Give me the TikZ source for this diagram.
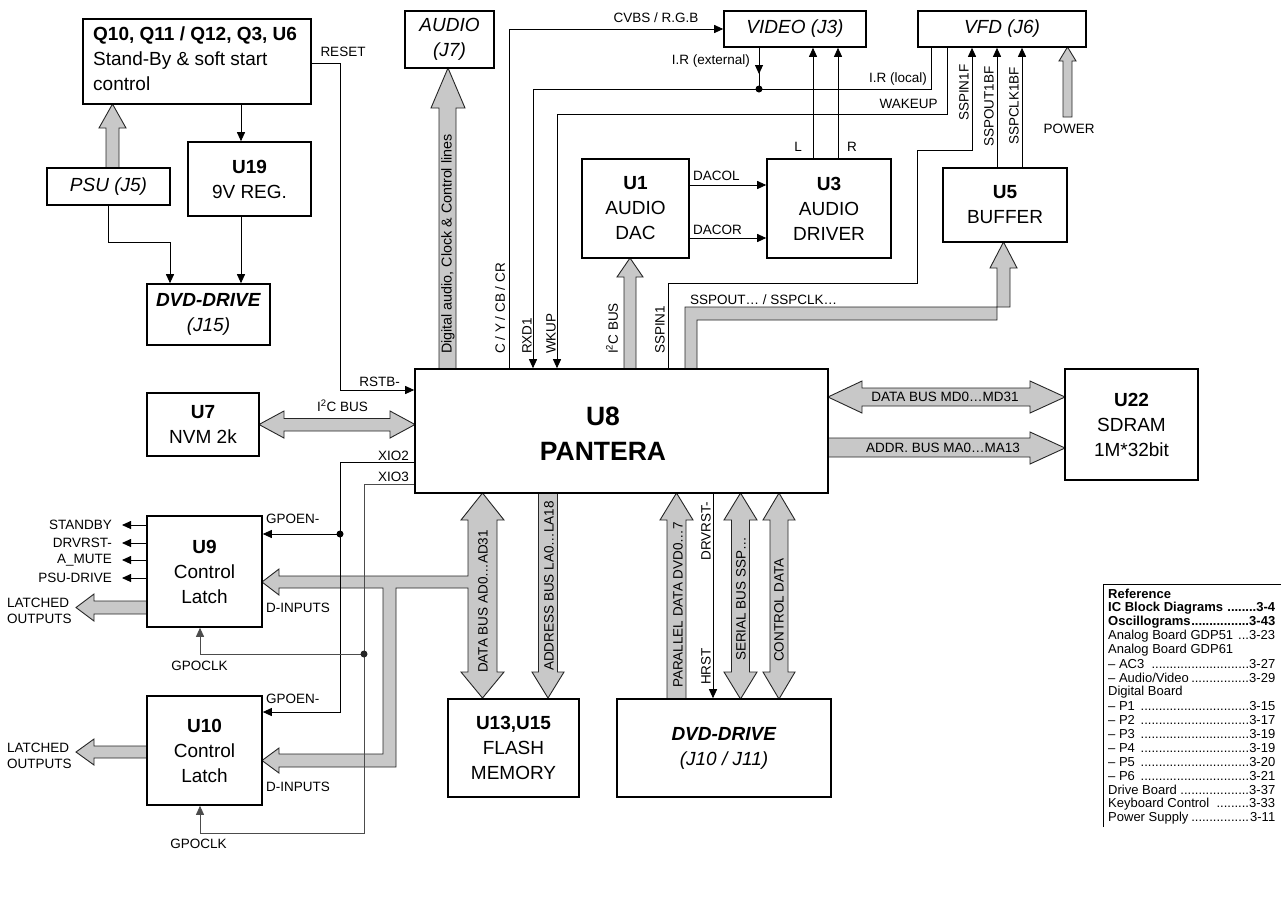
\documentclass[tikz,border=0pt]{standalone}
\usepackage{fontspec}
\setmainfont{Liberation Sans}
\usetikzlibrary{arrows.meta}
\definecolor{busgray}{RGB}{200,200,200}
\newcommand\fmain{\fontsize{19}{25}\selectfont}
\newcommand\fsm{\fontsize{13.5}{16.5}\selectfont}
\newcommand\fbig{\fontsize{26.5}{35}\selectfont\bfseries}
\newcommand\ftab{\fontsize{13}{14}\selectfont}
\newcommand\dotlead{\leaders\hbox{.}\hfill}
\newcommand\trw[1]{\hbox to 167pt{#1}}
\begin{document}
\begin{tikzpicture}[x=1pt,y=-1pt,
  box/.style={draw, line width=1.6pt, inner sep=0pt, align=center, font=\fmain},
  sig/.style={line width=0.9pt},
  gsig/.style={line width=0.9pt, draw=black!70, fill=none},
  arr/.style={-{Triangle[length=9pt,width=8pt]}},
  fat/.style={draw=black!85, line width=0.9pt, fill=busgray, line join=miter},
  lbl/.style={font=\fsm, inner sep=0pt},
  vlbl/.style={font=\fsm, inner sep=0pt, rotate=90},
  jdot/.style={circle, fill=black, inner sep=0pt, minimum size=7pt},
  trow/.style={font=\ftab, inner sep=0pt, anchor=west}]
\useasboundingbox (0,0) rectangle (1281,903);
\fill[white] (0,0) rectangle (1281,903);

% ---------- fat bus arrows ----------
\draw[fat] (106,168) -- (106,128) -- (99,128) -- (112.5,104) -- (126,128) -- (119,128) -- (119,168);
\draw[fat] (439,369) -- (439,108) -- (431,108) -- (448,68) -- (465,108) -- (456,108) -- (456,369);
\draw[fat] (624,369) -- (624,277) -- (617,277) -- (630,258) -- (643,277) -- (636,277) -- (636,369);
\draw[fat] (685,369) -- (685,307) -- (1010,307) -- (1010,268) -- (1017,268) -- (1003.5,242) -- (990,268) -- (997,268) -- (997,320) -- (697,320) -- (697,369);
\draw[fat] (1063,117) -- (1063,61) -- (1059,61) -- (1067.5,47) -- (1076,61) -- (1072,61) -- (1072,117) -- cycle;
\draw[fat] (828,397) -- (862,381) -- (862,388) -- (1030,388) -- (1030,381) -- (1065,397) -- (1030,413) -- (1030,406) -- (862,406) -- (862,413) -- cycle;
\draw[fat] (828,438) -- (1030,438) -- (1030,432) -- (1065,448) -- (1030,464) -- (1030,457) -- (828,457);
\draw[fat] (259,424.5) -- (284,411) -- (284,418.5) -- (390,418.5) -- (390,411) -- (415,424.5) -- (390,438) -- (390,431) -- (284,431) -- (284,438) -- cycle;
\draw[fat] (147,601) -- (94,601) -- (94,594) -- (76,607.5) -- (94,621) -- (94,614) -- (147,614);
\draw[fat] (147,746) -- (94,746) -- (94,739) -- (76,752) -- (94,765) -- (94,758) -- (147,758);
\draw[fat] (482.5,493) -- (504,520) -- (497,520) -- (497,672) -- (504,672) -- (482.5,698) -- (461,672) -- (468,672) -- (468,588) -- (396,588) -- (396,767) -- (279,767) -- (279,773) -- (262,760.5) -- (279,748) -- (279,754) -- (383,754) -- (383,588) -- (279,588) -- (279,595) -- (262,582) -- (279,569) -- (279,576) -- (468,576) -- (468,520) -- (461,520) -- cycle;
\draw[fat] (538.5,493) -- (538.5,672) -- (532,672) -- (548,698) -- (564,672) -- (557.5,672) -- (557.5,493);
\draw[fat] (667,699) -- (667,520) -- (660,520) -- (676.5,493) -- (693,520) -- (686,520) -- (686,699);
\draw[fat] (740.5,493) -- (757,520) -- (749.5,520) -- (749.5,672) -- (757,672) -- (740.5,699) -- (724,672) -- (731.5,672) -- (731.5,520) -- (724,520) -- cycle;
\draw[fat] (779,493) -- (795,520) -- (788,520) -- (788,672) -- (795,672) -- (779,699) -- (763,672) -- (770,672) -- (770,520) -- (763,520) -- cycle;

% ---------- blocks ----------
\node[box, minimum width=228pt, minimum height=85pt] (q10) at (197,61.5) {};
\node[font=\fmain, align=left, inner sep=0pt, anchor=west] (q10t) at (93,59)
  {\textbf{Q10, Q11 / Q12, Q3, U6}\\Stand-By \& soft start\\control};
\node[box, minimum width=123pt, minimum height=37pt] (psu) at (108.5,186.5) {\textit{PSU (J5)}};
\node[box, minimum width=123pt, minimum height=74pt] (u19) at (249.5,179) {\textbf{U19}\\9V REG.};
\node[box, minimum width=123pt, minimum height=61pt] (dvdA) at (208.5,314.5) {\textbf{\textit{DVD-DRIVE}}\\\textit{(J15)}};
\node[box, minimum width=89pt, minimum height=57pt] (audio) at (449.5,39.5) {\textit{AUDIO}\\\textit{(J7)}};
\node[box, minimum width=142pt, minimum height=36pt] (video) at (795,29) {\textit{VIDEO (J3)}};
\node[box, minimum width=168pt, minimum height=36pt] (vfd) at (1002,29) {\textit{VFD (J6)}};
\node[box, minimum width=107pt, minimum height=99pt] (u1) at (635.5,208.5) {\textbf{U1}\\AUDIO\\DAC};
\node[box, minimum width=124pt, minimum height=99pt] (u3) at (829,208.5) {\textbf{U3}\\AUDIO\\DRIVER};
\node[box, minimum width=124pt, minimum height=74pt] (u5) at (1005,205) {\textbf{U5}\\BUFFER};
\node[box, minimum width=413pt, minimum height=124pt] (u8) at (621.5,431) {};
\node[font=\fbig, align=center, inner sep=0pt] (u8t) at (603,434) {U8\\PANTERA};
\node[box, minimum width=133pt, minimum height=111pt] (u22) at (1131.5,424.5) {\textbf{U22}\\SDRAM\\1M*32bit};
\node[box, minimum width=112pt, minimum height=63pt] (u7) at (203,424.5) {\textbf{U7}\\NVM 2k};
\node[box, minimum width=115pt, minimum height=111pt] (u9) at (204.5,571.5) {\textbf{U9}\\Control\\Latch};
\node[box, minimum width=115pt, minimum height=109pt] (u10) at (204.5,750.5) {\textbf{U10}\\Control\\Latch};
\node[box, minimum width=131pt, minimum height=98pt] (u13) at (513.5,748) {\textbf{U13,U15}\\FLASH\\MEMORY};
\node[box, minimum width=214pt, minimum height=98pt] (dvdB) at (724,748) {\textbf{\textit{DVD-DRIVE}}\\\textit{(J10 / J11)}};

% ---------- signal lines ----------
\draw[sig,arr] (q10.east |- 0,63) -- (340,63) -- (340,390) -- (u8.west |- 0,390);
\draw[sig,arr] (q10.south -| 241,0) -- (u19.north -| 241,0);
\draw[sig,arr] (psu.south) -- (108.5,242) -- (170,242) -- (dvdA.north -| 170,0);
\draw[sig,arr] (u19.south -| 241,0) -- (dvdA.north -| 241,0);
\draw[sig,arr] (u8.north -| 509,0) -- (509,29) -- (video.west);
\draw[sig,arr] (video.south -| 759,0) -- (759,74);
\draw[sig] (759,70) -- (759,89);
\draw[sig,arr] (vfd.south -| 931,0) -- (931,89) -- (533,89) -- (u8.north -| 533,0);
\draw[sig,arr] (vfd.south -| 947,0) -- (947,114) -- (557,114) -- (u8.north -| 557,0);
\draw[sig,arr] (u1.east |- 0,185) -- (u3.west |- 0,185);
\draw[sig,arr] (u1.east |- 0,238) -- (u3.west |- 0,238);
\draw[sig,arr] (u3.north -| 813,0) -- (video.south -| 813,0);
\draw[sig,arr] (u3.north -| 838,0) -- (video.south -| 838,0);
\draw[sig,arr] (u8.north -| 668,0) -- (668,283) -- (917,283) -- (917,150) -- (972,150) -- (vfd.south -| 972,0);
\draw[sig,arr] (u5.north -| 997,0) -- (vfd.south -| 997,0);
\draw[sig,arr] (u5.north -| 1022,0) -- (vfd.south -| 1022,0);
\draw[sig,arr] (u8.west |- 0,462) -- (340,462) -- (340,712) -- (u10.east |- 0,712);
\draw[sig,arr] (340,534) -- (u9.east |- 0,534);
\draw[gsig,arr] (u8.west |- 0,484) -- (364,484) -- (364,833) -- (200,833) -- (u10.south -| 200,0);
\draw[gsig,arr] (364,654) -- (200,654) -- (u9.south -| 200,0);
\draw[sig,arr] (u9.west |- 0,525) -- (122,525);
\draw[sig,arr] (u9.west |- 0,543) -- (122,543);
\draw[sig,arr] (u9.west |- 0,560) -- (122,560);
\draw[sig,arr] (u9.west |- 0,578) -- (122,578);
\draw[sig,arr] (u8.south -| 713,0) -- (dvdB.north -| 713,0);
\node[jdot] (d1) at (759,89) {};
\node[jdot] (d2) at (340,534) {};
\node[jdot, fill=black!85] (d3) at (364,654) {};

% ---------- labels ----------
\node[lbl] (lReset) at (343,52) {RESET};
\node[lbl] (lRstb) at (379.5,382) {RSTB-};
\node[lbl] (lI2c) at (342.5,406) {I\textsuperscript{2}C BUS};
\node[lbl, anchor=east] (lX2) at (409,456) {XIO2};
\node[lbl, anchor=east] (lX3) at (409,477) {XIO3};
\node[lbl, anchor=west] (lGe1) at (266,519) {GPOEN-};
\node[lbl, anchor=west] (lGe2) at (266,699) {GPOEN-};
\node[lbl, anchor=west] (lDi1) at (266,608) {D-INPUTS};
\node[lbl, anchor=west] (lDi2) at (266,787) {D-INPUTS};
\node[lbl] (lGc1) at (199.5,666) {GPOCLK};
\node[lbl] (lGc2) at (198.5,844) {GPOCLK};
\node[lbl, anchor=east] (lSb) at (112,525) {STANDBY};
\node[lbl, anchor=east] (lDr) at (112,543) {DRVRST-};
\node[lbl, anchor=east] (lAm) at (112,560) {A\_MUTE};
\node[lbl, anchor=east] (lPd) at (112,578) {PSU-DRIVE};
\node[lbl, anchor=west, align=left] (lLo1) at (7,611) {LATCHED\\OUTPUTS};
\node[lbl, anchor=west, align=left] (lLo2) at (7,756) {LATCHED\\OUTPUTS};
\node[lbl] (lCvbs) at (656,18) {CVBS / R.G.B};
\node[lbl, anchor=east] (lIre) at (750,61) {I.R (external)};
\node[lbl] (lIrl) at (898,79) {I.R (local)};
\node[lbl] (lWak) at (908.5,104) {WAKEUP};
\node[lbl] (lL) at (798,147) {L};
\node[lbl] (lR) at (852,147) {R};
\node[lbl, anchor=west] (lDl) at (693,176) {DACOL};
\node[lbl, anchor=west] (lDr2) at (693,230) {DACOR};
\node[lbl, anchor=west] (lSsp) at (690,300) {SSPOUT… / SSPCLK…};
\node[lbl] (lPow) at (1069,129) {POWER};
\node[lbl] (lMd) at (945,397) {DATA BUS MD0…MD31};
\node[lbl] (lMa) at (943,448) {ADDR. BUS MA0…MA13};
\node[vlbl, anchor=west, font=\fontsize{14.3}{16}\selectfont] (vDa) at (448,354) {Digital audio, Clock \& Control lines};
\node[vlbl, anchor=west] (vCy) at (500,354) {C / Y / CB / CR};
\node[vlbl, anchor=west] (vRx) at (527,354) {RXD1};
\node[vlbl, anchor=west] (vWk) at (551,354) {WKUP};
\node[vlbl, anchor=west] (vI2) at (612,354) {I\textsuperscript{2}C BUS};
\node[vlbl, anchor=west] (vSs) at (660,354) {SSPIN1};
\node[vlbl, anchor=west] (vSf) at (964,121) {SSPIN1F};
\node[vlbl, anchor=west] (vSo) at (989,147) {SSPOUT1BF};
\node[vlbl, anchor=west] (vSc) at (1014,145) {SSPCLK1BF};
\node[vlbl] (vAd) at (483,601.5) {DATA BUS AD0…AD31};
\node[vlbl] (vLa) at (549,586) {ADDRESS BUS LA0…LA18};
\node[vlbl] (vPd) at (678,605) {PARALLEL DATA DVD0…7};
\node[vlbl] (vDrv) at (706,531) {DRVRST-};
\node[vlbl] (vHr) at (706,666.5) {HRST};
\node[vlbl] (vSb) at (741,599) {SERIAL BUS SSP…};
\node[vlbl] (vCd) at (779,610) {CONTROL DATA};

% ---------- reference table ----------
\draw[line width=1pt] (1103,827) -- (1103,584) -- (1281,584);
\node[trow] (t1) at (1108,594) {\trw{\textbf{Reference}\hfil}};
\node[trow] (t2) at (1108,608) {\trw{\textbf{IC Block Diagrams \dotlead3-4}}};
\node[trow] (t3) at (1108,622) {\trw{\textbf{Oscillograms\dotlead3-43}}};
\node[trow] (t4) at (1108,636) {\trw{Analog Board GDP51 \dotlead3-23}};
\node[trow] (t5) at (1108,650) {\trw{Analog Board GDP61\hfil}};
\node[trow] (t6) at (1108,664) {\trw{– AC3 \dotlead3-27}};
\node[trow] (t7) at (1108,678) {\trw{– Audio/Video\dotlead3-29}};
\node[trow] (t8) at (1108,692) {\trw{Digital Board\hfil}};
\node[trow] (t9) at (1108,706) {\trw{– P1 \dotlead3-15}};
\node[trow] (t10) at (1108,720) {\trw{– P2 \dotlead3-17}};
\node[trow] (t11) at (1108,734) {\trw{– P3 \dotlead3-19}};
\node[trow] (t12) at (1108,748) {\trw{– P4 \dotlead3-19}};
\node[trow] (t13) at (1108,762) {\trw{– P5 \dotlead3-20}};
\node[trow] (t14) at (1108,776) {\trw{– P6 \dotlead3-21}};
\node[trow] (t15) at (1108,790) {\trw{Drive Board\dotlead3-37}};
\node[trow] (t16) at (1108,804) {\trw{Keyboard Control \dotlead3-33}};
\node[trow] (t17) at (1108,818) {\trw{Power Supply\dotlead3-11}};
\end{tikzpicture}
\end{document}
